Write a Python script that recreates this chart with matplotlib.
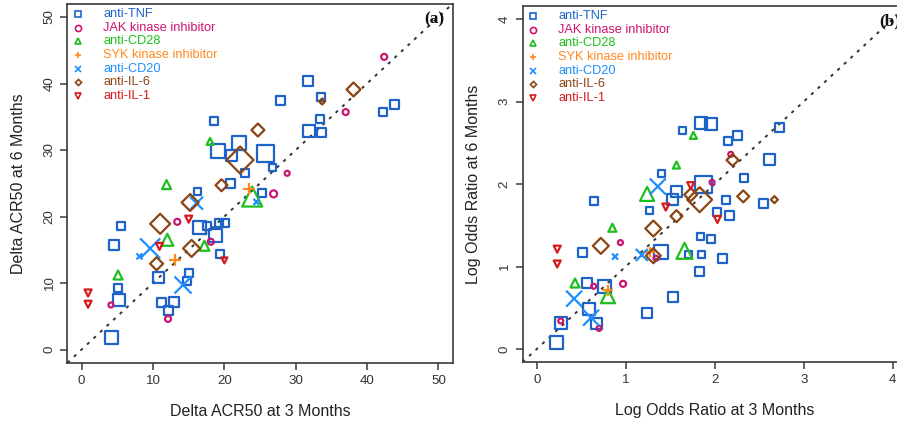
import matplotlib
matplotlib.use("Agg")
import matplotlib.pyplot as plt
from matplotlib.transforms import ScaledTranslation
import numpy as np

# ---------------- data ----------------
groups = ["anti-TNF", "JAK kinase inhibitor", "anti-CD28", "SYK kinase inhibitor",
          "anti-CD20", "anti-IL-6", "anti-IL-1"]
group_colors = ["#1E64C8", "#CC1570", "#1DBF1D", "#FF8A1E", "#1E8FFF", "#8B4513", "#D41A1A"]
group_markers = ["s", "o", "^", "+", "x", "D", "v"]

# Panel (a): Delta ACR50 at 3 months vs 6 months
acr_x3 = [31.7, 27.8, 33.5, 42.2, 43.8, 33.4, 18.6, 31.9, 33.6, 19.1, 22.1, 21.0, 25.7, 26.8,
          22.9, 20.9, 25.3, 16.3, 5.5, 16.5, 17.5, 19.2, 20.1, 18.7, 4.6, 19.4, 10.7, 15.1,
          14.8, 5.1, 5.3, 11.2, 12.9, 12.1, 4.2,
          42.4, 37.0, 28.8, 26.9, 13.4, 18.1, 4.1, 12.1,
          18.0, 11.9, 23.9, 12.0, 17.2, 5.1,
          23.5, 13.1,
          16.1, 24.5, 9.6, 8.1, 14.2,
          38.1, 33.7, 24.7, 22.2, 19.6, 15.2, 11.0, 15.4, 10.5,
          15.0, 10.9, 20.0, 0.9, 0.9]
acr_y6 = [40.4, 37.4, 37.9, 35.7, 36.9, 34.7, 34.3, 32.9, 32.6, 29.9, 31.1, 29.1, 29.5, 27.4,
          26.5, 25.0, 23.6, 23.8, 18.5, 18.4, 18.5, 19.0, 19.0, 17.2, 15.7, 14.4, 10.9, 11.5,
          10.3, 9.2, 7.5, 7.0, 7.2, 5.9, 1.8,
          44.0, 35.7, 26.5, 23.4, 19.2, 16.2, 6.7, 4.6,
          31.3, 24.8, 23.0, 16.5, 15.6, 11.2,
          24.1, 13.4,
          22.0, 22.2, 15.2, 14.0, 9.7,
          39.1, 37.3, 33.0, 28.5, 24.7, 22.1, 18.9, 15.2, 12.9,
          19.6, 15.5, 13.4, 8.5, 6.8]
acr_grp = [0] * 35 + [1] * 8 + [2] * 6 + [3] * 2 + [4] * 5 + [5] * 9 + [6] * 5
acr_w = [10, 9, 8, 8, 9, 8, 8, 12, 9, 14, 14, 11, 17, 7, 8, 9, 8, 7, 8, 13, 8, 8, 8, 13, 10,
         8, 11, 8, 8, 8, 12, 9, 10, 9, 13,
         6, 6, 5, 7, 6, 6, 5, 6,
         7, 9, 20, 12, 10, 9,
         12, 12,
         13, 6, 20, 6, 17,
         14, 6, 13, 27, 12, 17, 20, 17, 13,
         7, 7, 6, 7, 7]

# Panel (b): log odds ratio at 3 months vs 6 months
lor_x3 = [1.84, 1.96, 1.64, 2.73, 2.15, 2.25, 2.61, 1.40, 2.33, 1.57, 1.53, 1.87, 0.64, 2.13,
          2.55, 1.27, 2.02, 2.17, 1.84, 1.96, 0.51, 1.40, 1.85, 2.09, 1.83, 0.57, 0.76, 1.53,
          1.24, 0.59, 0.67, 0.27, 0.22, 1.70,
          2.18, 1.97, 0.94, 0.64, 0.97, 0.70, 0.27, 1.34,
          1.76, 1.57, 1.24, 0.85, 1.66, 0.43, 0.80,
          1.27, 0.80,
          1.36, 0.88, 1.18, 0.42, 0.61,
          2.20, 1.83, 1.73, 2.32, 2.67, 1.57, 1.31, 0.72, 1.31,
          1.73, 1.45, 2.03, 0.23, 0.23]
lor_y6 = [2.74, 2.73, 2.65, 2.69, 2.52, 2.59, 2.30, 2.13, 2.07, 1.91, 1.81, 1.99, 1.79, 1.80,
          1.76, 1.68, 1.66, 1.62, 1.36, 1.33, 1.17, 1.17, 1.15, 1.10, 0.94, 0.80, 0.76, 0.63,
          0.44, 0.48, 0.31, 0.32, 0.08, 1.14,
          2.36, 2.02, 1.29, 0.76, 0.79, 0.25, 0.34, 1.10,
          2.59, 2.23, 1.88, 1.47, 1.19, 0.80, 0.64,
          1.18, 0.71,
          1.97, 1.12, 1.14, 0.61, 0.38,
          2.29, 1.81, 1.87, 1.85, 1.81, 1.61, 1.46, 1.25, 1.13,
          1.98, 1.72, 1.57, 1.21, 1.03]
lor_grp = [0] * 34 + [1] * 8 + [2] * 7 + [3] * 2 + [4] * 5 + [5] * 9 + [6] * 5
lor_w = [12, 12, 7, 9, 8, 9, 11, 7, 8, 11, 11, 17, 8, 8, 9, 7, 8, 9, 7, 8, 9, 14, 7, 9, 9,
         10, 13, 10, 10, 12, 11, 12, 13, 7,
         5, 5, 5, 5, 6, 5, 5, 5,
         7, 7, 14, 8, 16, 9, 14,
         10, 11,
         16, 6, 12, 16, 16,
         12, 25, 13, 12, 7, 12, 16, 16, 15,
         7, 7, 7, 7, 7]

# ---------------- figure ----------------
DPI = 100
fig = plt.figure(figsize=(8.97, 4.28), dpi=DPI)
W, H = 897.0, 428.0

def px_axes(l, t, r, b):
    return [l / W, 1 - b / H, (r - l) / W, (b - t) / H]

axA = fig.add_axes(px_axes(67.4, 3.7, 452.7, 362.8))
axB = fig.add_axes(px_axes(522.5, 5.8, 907.0, 362.2))

sans = ["Liberation Sans", "DejaVu Sans"]
serif = ["Liberation Serif", "DejaVu Serif"]
axis_col = "#3a3a3a"
PX2PT = 72.0 / DPI


def draw_panel(ax, xs, ys, grp, wts, lim, ticks, xlabel, ylabel, tag):
    xs = np.asarray(xs); ys = np.asarray(ys); grp = np.asarray(grp); wts = np.asarray(wts, float)
    span = lim[1] - lim[0]
    ax.set_xlim(lim[0] - 0.04 * span, lim[1] + 0.04 * span)
    ax.set_ylim(lim[0] - 0.04 * span, lim[1] + 0.04 * span)
    ax.axline((0, 0), slope=1, color="#333333", lw=1.4, dashes=(1.6, 3.0), zorder=1)
    for g in range(len(groups)):
        m = grp == g
        if not m.any():
            continue
        mk = group_markers[g]
        fac = 1 / 1.414 if mk == "D" else 1.0
        s = (wts[m] * PX2PT * fac) ** 2
        if mk in ("+", "x"):
            ax.scatter(xs[m], ys[m], s=s, marker=mk, color=group_colors[g], linewidths=1.6, zorder=3)
        else:
            ax.scatter(xs[m], ys[m], s=s, marker=mk, facecolors="none",
                       edgecolors=group_colors[g], linewidths=1.6, zorder=3)
    ax.set_xticks(ticks)
    ax.set_yticks(ticks)
    ax.set_xticklabels([str(t) for t in ticks], family=sans, fontsize=9.6, color="#333333")
    ax.set_yticklabels([str(t) for t in ticks], family=sans, fontsize=9.6, color="#333333",
                       rotation=90, va="center")
    ax.tick_params(direction="out", length=5, width=1.1, color=axis_col, pad=3.5)
    for sp in ax.spines.values():
        sp.set_color(axis_col)
        sp.set_linewidth(1.2)
    ax.set_xlabel(xlabel, family=sans, fontsize=11.5, color="#222222", va="center")
    ax.set_ylabel(ylabel, family=sans, fontsize=11.5, color="#222222", va="center")
    bb = ax.get_position()
    ax.xaxis.set_label_coords(0.5, -48.5 / (bb.height * H))
    ax.yaxis.set_label_coords(-49.0 / (bb.width * W), 0.5)
    ax.text(0.927, 0.955, tag, transform=ax.transAxes, family=serif, fontweight="bold",
            fontsize=12.5, color="#111111", ha="left", va="center")
    # legend (no frame), rows stacked below top-left corner
    for g in range(len(groups)):
        dy = -(10.5 + 13.6 * g) / DPI
        tm = ax.transAxes + ScaledTranslation(10.8 / DPI, dy, fig.dpi_scale_trans)
        tt = ax.transAxes + ScaledTranslation(36.0 / DPI, dy, fig.dpi_scale_trans)
        mk = group_markers[g]
        ms = 4.4 / (1.414 if mk == "D" else 1.0)
        ax.plot([0], [1], marker=mk, ms=ms, mfc="none", mec=group_colors[g], mew=1.2,
                transform=tm, clip_on=False, linestyle="none")
        ax.text(0, 1, groups[g], transform=tt, color=group_colors[g], family=sans,
                fontsize=9.2, ha="left", va="center")


draw_panel(axA, acr_x3, acr_y6, acr_grp, acr_w, (0, 50), [0, 10, 20, 30, 40, 50],
           "Delta ACR50 at 3 Months", "Delta ACR50 at 6 Months", "(a)")
draw_panel(axB, lor_x3, lor_y6, lor_grp, lor_w, (0, 4), [0, 1, 2, 3, 4],
           "Log Odds Ratio at 3 Months", "Log Odds Ratio at 6 Months", "(b)")

fig.savefig("out.png", dpi=DPI)
